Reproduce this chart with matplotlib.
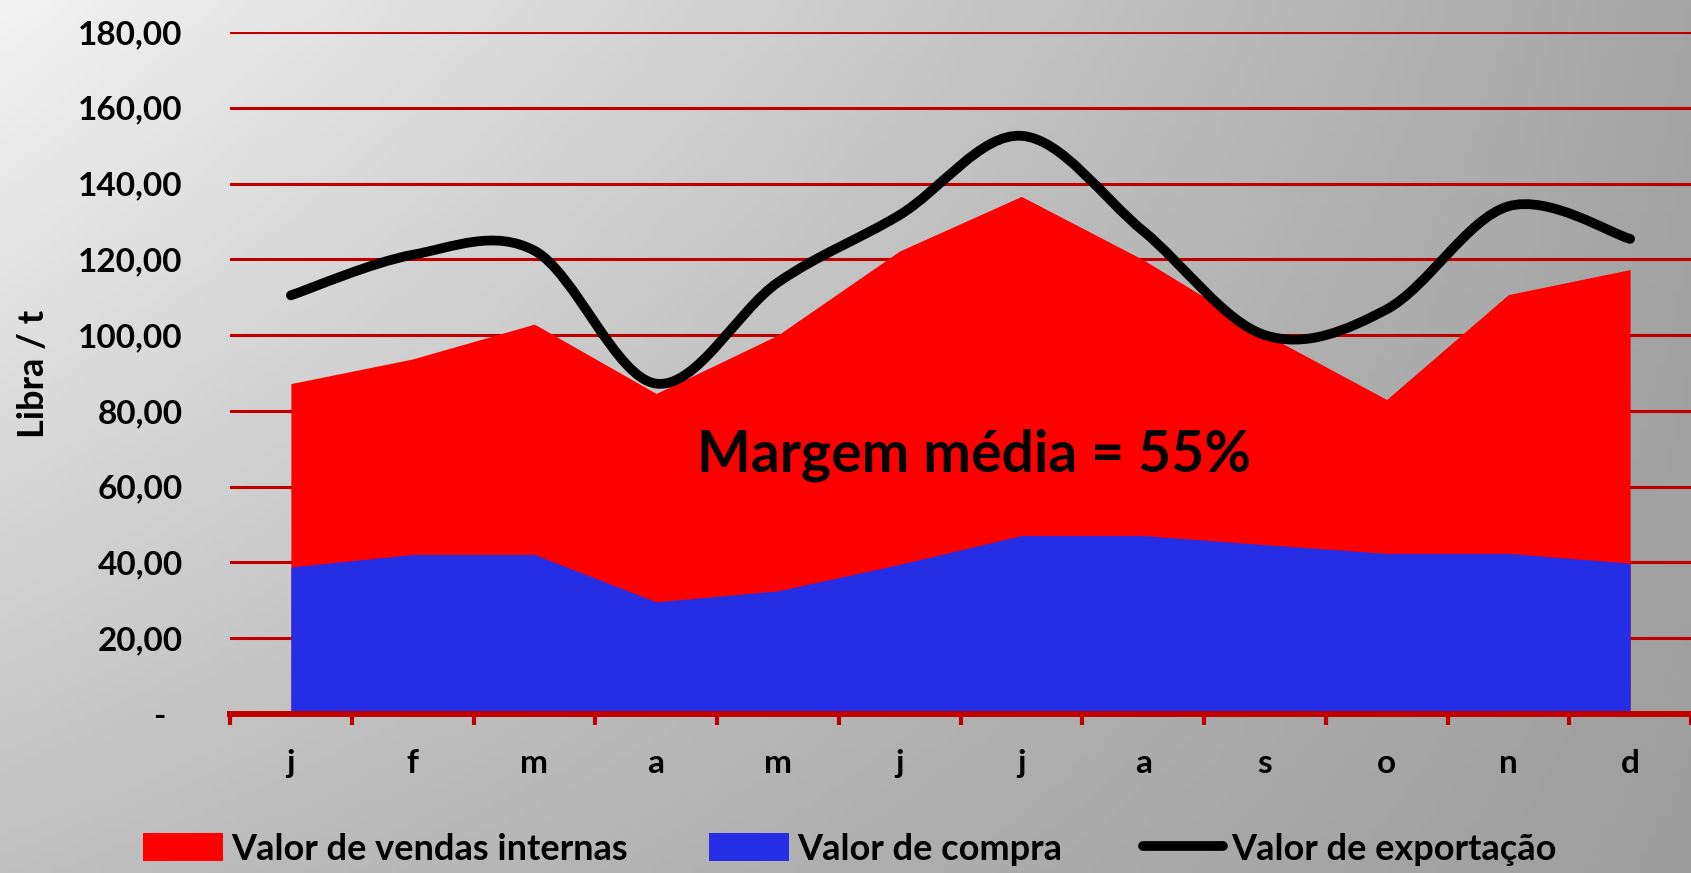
import numpy as np
import matplotlib
matplotlib.use('Agg')
import matplotlib.pyplot as plt
from matplotlib.path import Path
from matplotlib.patches import PathPatch, Patch
from matplotlib.lines import Line2D

plt.rcParams['font.family'] = ['Lato', 'DejaVu Sans']
plt.rcParams['font.weight'] = 'bold'

# dados
meses = ['j', 'f', 'm', 'a', 'm', 'j', 'j', 'a', 's', 'o', 'n', 'd']
vendas_internas = [87.2, 93.7, 102.9, 84.6, 100.0, 122.2, 136.6, 119.9, 100.3, 83.0, 110.7, 117.3]
compra = [38.8, 42.1, 42.1, 29.6, 32.5, 39.5, 47.1, 47.1, 44.7, 42.4, 42.4, 39.8]
exportacao = [110.5, 121.2, 122.3, 87.2, 113.9, 131.7, 152.6, 127.5, 100.0, 106.8, 134.0, 125.4]
y_ticks = [0, 20, 40, 60, 80, 100, 120, 140, 160, 180]

W, H = 1691, 873
fig = plt.figure(figsize=(W / 100, H / 100), dpi=100)

# fundo em degradê
bg = fig.add_axes([0, 0, 1, 1], zorder=-10)
u = np.linspace(0, 1, 200)
v = np.linspace(0, 1, 120)
U, V = np.meshgrid(u, v)
tl, tr, bl, br = 243, 165, 192, 158
G = (tl * (1 - U) * (1 - V) + tr * U * (1 - V) + bl * (1 - U) * V + br * U * V) / 255
bg.imshow(np.dstack([G, G, G]), extent=[0, 1, 1, 0], aspect='auto')
bg.set_xlim(0, 1)
bg.set_ylim(1, 0)
bg.axis('off')

left, right = 230 / W, 1.0
bottom, top = 1 - 714 / H, 1 - 32 / H
ax = fig.add_axes([left, bottom, right - left, top - bottom])
ax.set_facecolor('none')

x = np.arange(len(meses))
red_grid = '#C00000'

ax.fill_between(x, 0, vendas_internas, color='#FF0000', lw=0, zorder=2)
ax.fill_between(x, 0, compra, color='#262EE5', lw=0, zorder=3)

# linha suavizada (bezier como no Excel)
ye = np.array(exportacao, dtype=float)
xe = x.astype(float)
n = len(xe)
verts = [(xe[0], ye[0])]
codes = [Path.MOVETO]
for i in range(n - 1):
    i0 = max(i - 1, 0)
    i3 = min(i + 2, n - 1)
    c1 = (xe[i] + (xe[i + 1] - xe[i0]) / 6, ye[i] + (ye[i + 1] - ye[i0]) / 6)
    c2 = (xe[i + 1] - (xe[i3] - xe[i]) / 6, ye[i + 1] - (ye[i3] - ye[i]) / 6)
    verts += [c1, c2, (xe[i + 1], ye[i + 1])]
    codes += [Path.CURVE4] * 3
ax.add_patch(PathPatch(Path(verts, codes), fill=False, color='black', lw=7,
                       capstyle='round', joinstyle='round', zorder=5))

ax.set_xlim(-0.5, len(meses) - 0.5)
ax.set_ylim(0, 180)

ax.set_yticks(y_ticks)
ax.set_yticklabels(['-  '] + ['%d,00' % t for t in y_ticks[1:]])
ax.yaxis.grid(True, color=red_grid, lw=2.2, zorder=1)
ax.set_axisbelow(True)

ax.set_xticks(x)
ax.set_xticklabels(meses)
ax.set_xticks(np.arange(-0.5, len(meses)), minor=True)
ax.tick_params(axis='x', which='major', length=0, pad=25, labelsize=24)
ax.tick_params(axis='x', which='minor', length=8, width=3, color=red_grid, direction='out')
ax.tick_params(axis='y', length=0, pad=34, labelsize=24)

for s in ['top', 'right', 'left']:
    ax.spines[s].set_visible(False)
ax.spines['bottom'].set_color(red_grid)
ax.spines['bottom'].set_linewidth(4.3)
ax.spines['bottom'].set_zorder(6)

ax.text(5.61, 64.0, 'Margem média = 55%', ha='center', va='baseline',
        fontsize=41, fontweight='bold', color='black', zorder=7)

fig.text(33 / W, 1 - 374 / H, 'Libra / t', rotation=90, ha='center', va='center',
         fontsize=26, fontweight='bold')

handles = [Patch(facecolor='#FF0000', edgecolor='none'),
           Patch(facecolor='#262EE5', edgecolor='none'),
           Line2D([0], [0], color='black', lw=7, solid_capstyle='round')]
labels = ['Valor de vendas internas', 'Valor de compra', 'Valor de exportação']
fig.legend(handles, labels, loc='center', bbox_to_anchor=(850 / W, 1 - 849 / H), ncol=3,
           frameon=False, fontsize=26, handlelength=2.2, handleheight=0.85,
           handletextpad=0.24, columnspacing=2.25)

fig.savefig('out.png', dpi=100)
